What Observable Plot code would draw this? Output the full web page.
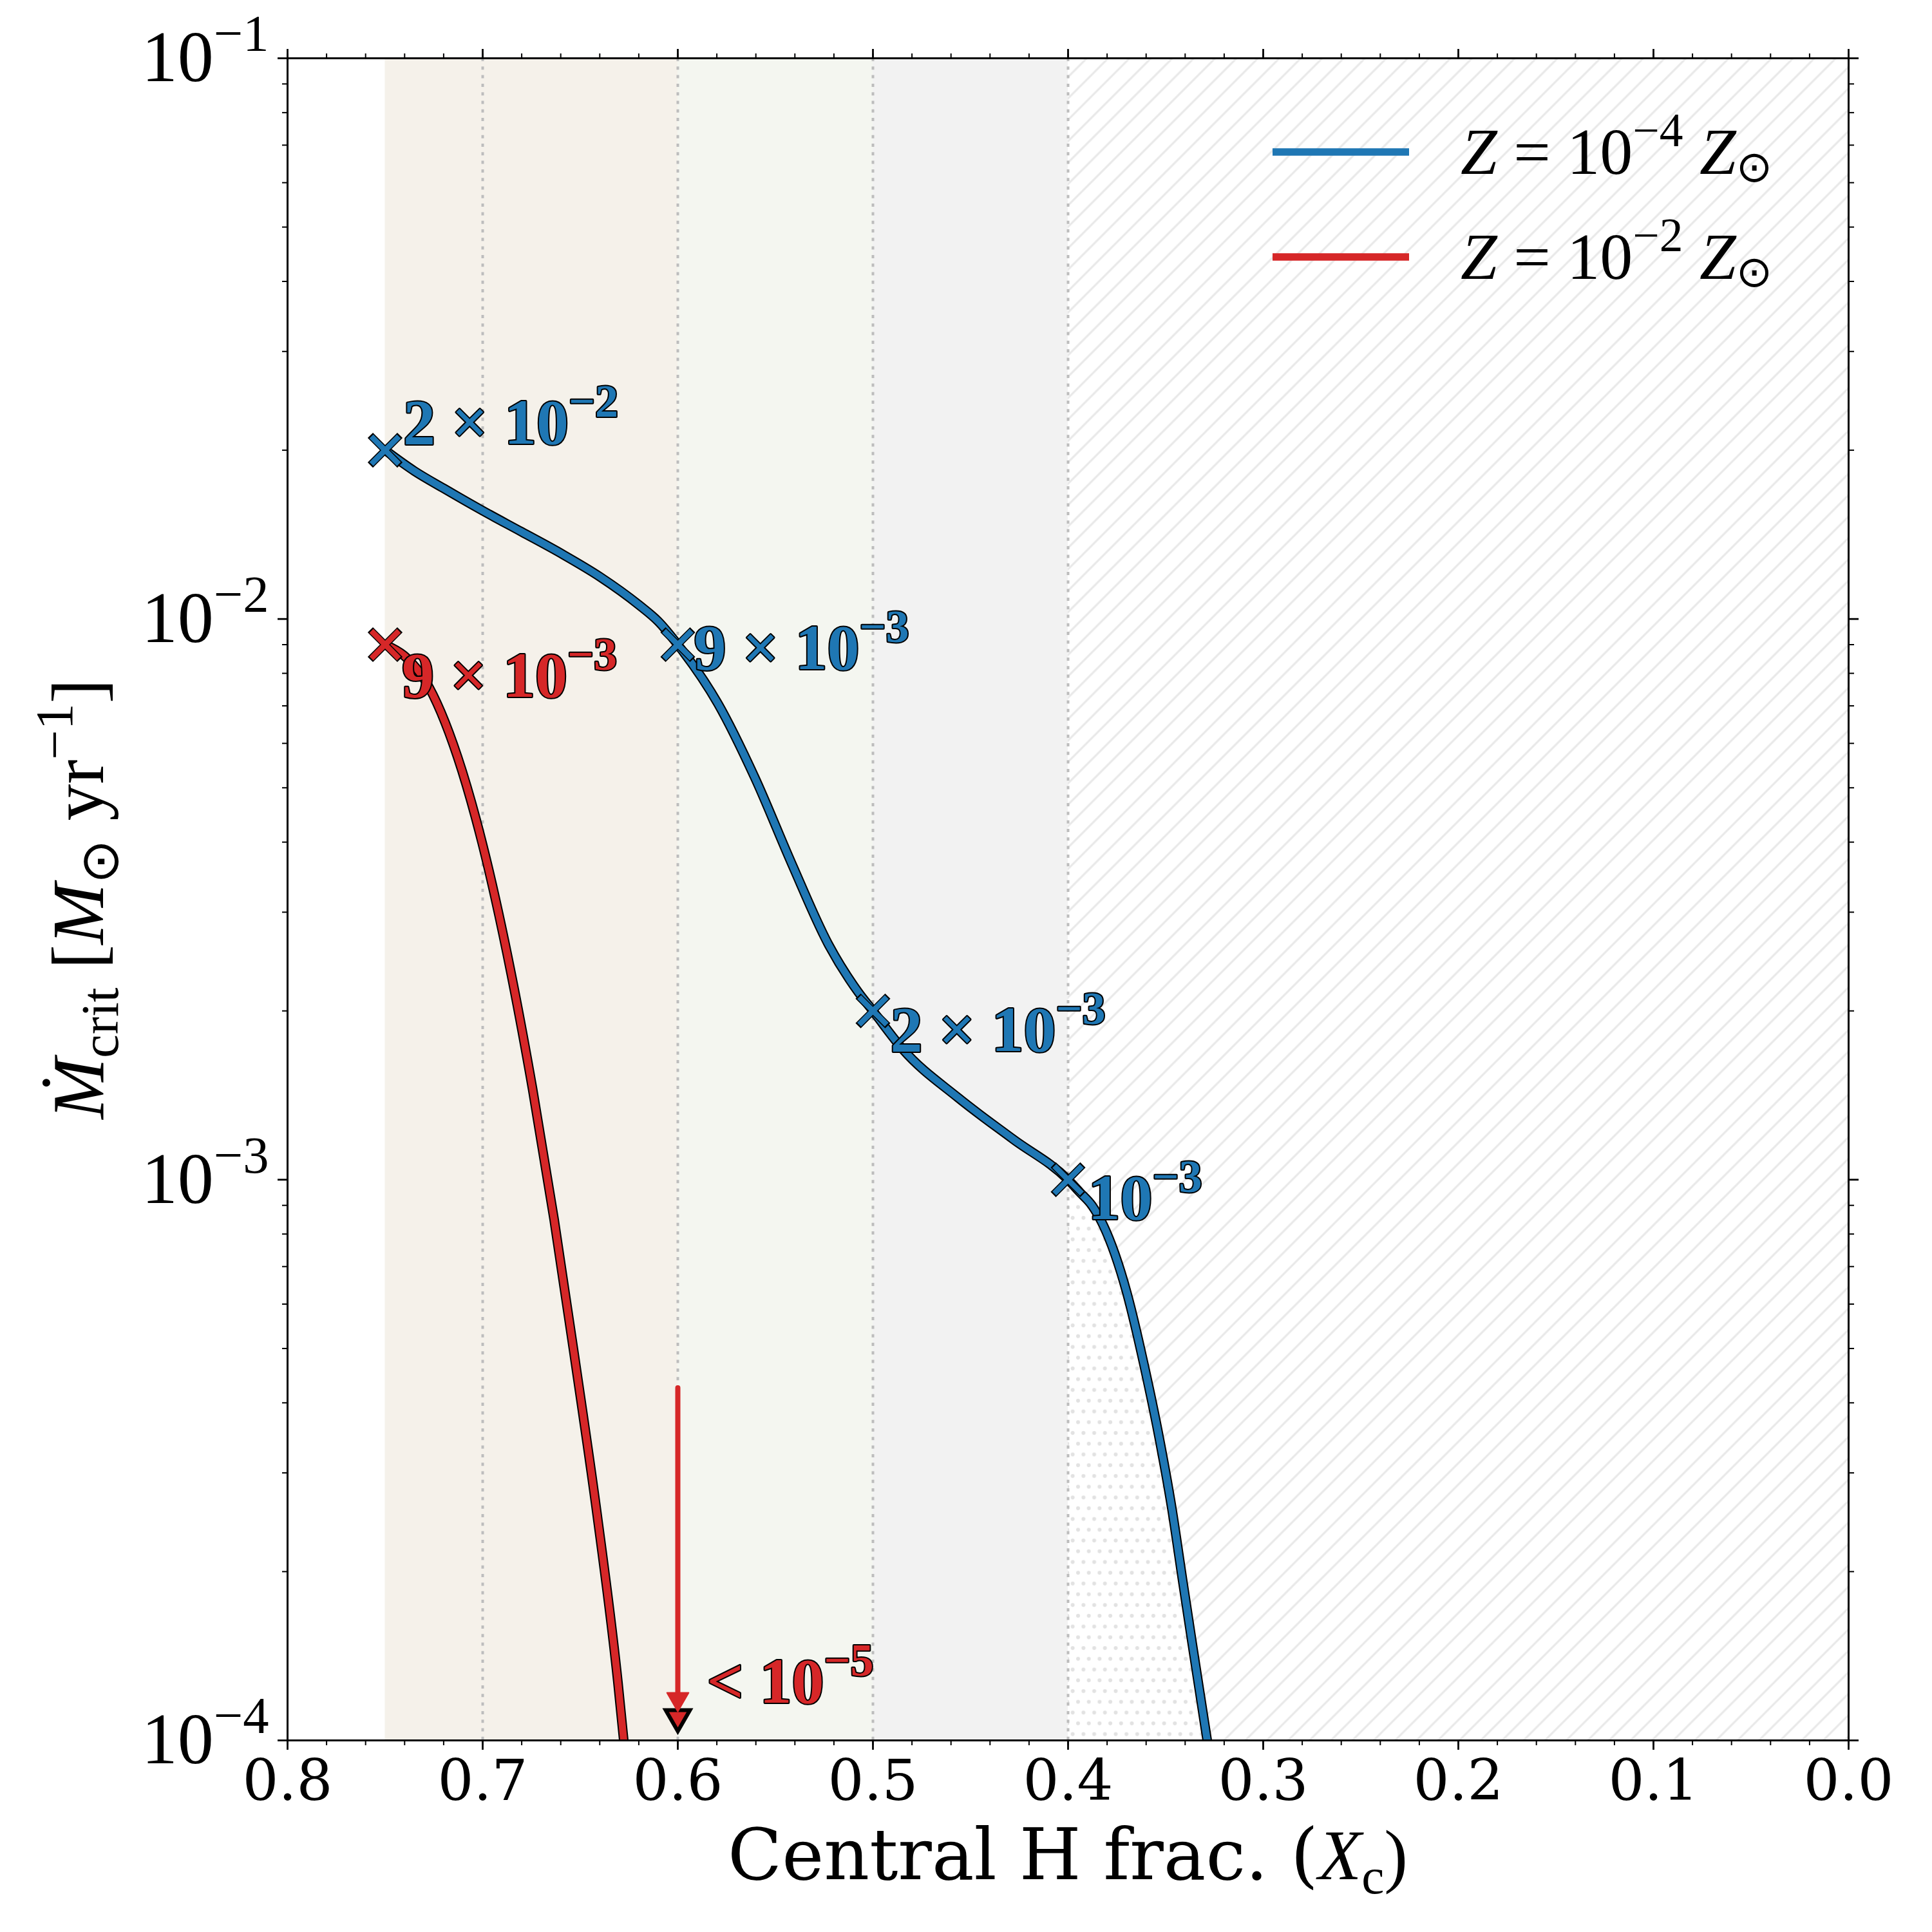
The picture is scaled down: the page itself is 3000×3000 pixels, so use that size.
<!DOCTYPE html>
<html><head><meta charset="utf-8">
<script src="https://cdn.jsdelivr.net/npm/d3@7"></script>
<script src="https://cdn.jsdelivr.net/npm/@observablehq/plot@0.6"></script>
<style>body{margin:0;background:#fff} svg{display:block}</style>
</head><body><div id="chart"></div>
<script>
// ---------------- data ----------------
const seriesNames = ["Z = 10^{−4} Z_{⊙}", "Z = 10^{−2} Z_{⊙}"];

// Z = 1e-4 Zsun (blue)
const lowZ_Xc   = [0.75, 0.735, 0.72, 0.70, 0.68, 0.66, 0.64, 0.62, 0.61, 0.60, 0.5794, 0.5605, 0.5416, 0.5226, 0.5075, 0.50, 0.4848, 0.4563, 0.428, 0.40, 0.394, 0.3878, 0.382, 0.3699, 0.3611, 0.3534, 0.3468, 0.3413, 0.3364, 0.3287];
const lowZ_Mdot = [0.0200, 0.01836, 0.0171, 0.0156, 0.0143, 0.0131, 0.0119, 0.0106, 0.0099, 0.0090, 0.00706, 0.00521, 0.00366, 0.00262, 0.00216, 0.0020, 0.00171, 0.00140, 0.00118, 0.0010, 0.00095, 0.00090, 0.00083, 0.000629, 0.000468, 0.000348, 0.000259, 0.000193, 0.000149, 0.0001];

// Z = 1e-2 Zsun (red)
const highZ_Xc   = [0.75, 0.7404, 0.7294, 0.7129, 0.7002, 0.6854, 0.6744, 0.6634, 0.6524, 0.6413, 0.6307, 0.6277];
const highZ_Mdot = [0.0090, 0.00861, 0.00776, 0.00568, 0.00398, 0.00233, 0.00145, 0.00085, 0.00047, 0.000252, 0.000127, 0.0001];

// labelled points
const markerSeries = [0, 0, 0, 0, 1];
const markerXc     = [0.75, 0.60, 0.50, 0.40, 0.75];
const markerMdot   = [0.02, 0.009, 0.002, 0.001, 0.009];
const markerLabels = ["2 × 10^{−2}", "9 × 10^{−3}", "2 × 10^{−3}", "10^{−3}", "9 × 10^{−3}"];

// upper limit for the high-Z model
const limitXc = [0.60];
const limitMdot = [1.1e-4];
const limitArrowFrom = [4.25e-4];
const limitArrowTo = [1.127e-4];
const limitLabel = ["< 10^{−5}"];

// evolutionary phase bands (in Xc)
const bandStart = [0.75, 0.60, 0.50, 0.40];
const bandEnd   = [0.60, 0.50, 0.40, 0.00];
const phaseLines = [0.70, 0.60, 0.50, 0.40];
const shadeBelowFrom = [0.40]; // dotted fill under the low-Z curve for Xc below this

// axes
const xTickValues = [0.8, 0.7, 0.6, 0.5, 0.4, 0.3, 0.2, 0.1, 0.0];
const xTickLabels = ["0.8", "0.7", "0.6", "0.5", "0.4", "0.3", "0.2", "0.1", "0.0"];
const yTickValues = [1e-4, 1e-3, 1e-2, 1e-1];
const yTickLabels = ["10^{−4}", "10^{−3}", "10^{−2}", "10^{−1}"];
const xMinor = d3.range(0, 41).map(i => +(i * 0.02).toFixed(2));
const yMinor = [1e-4, 1e-3, 1e-2].flatMap(d => [2,3,4,5,6,7,8,9].map(k => k * d));

// ---------------- styles ----------------
const colors = ["#1f77b4", "#d62728"];
const bandFills = ["#f5f1ea", "#f4f6f0", "#f2f2f2", "url(#hatch)"];
const labelOffsets = [[28, -10], [25, 38], [27, 62], [31, 61], [26, 81]];
const mathFont = "'Liberation Serif', 'DejaVu Serif', serif";
const annSize = 100;

const lowRows = lowZ_Xc.map((x, i) => ({Xc: x, Mdot: lowZ_Mdot[i]}));
const highRows = highZ_Xc.map((x, i) => ({Xc: x, Mdot: highZ_Mdot[i]}));
const seriesRows = [lowRows, highRows];
const markers = markerXc.map((x, i) => ({Xc: x, Mdot: markerMdot[i], s: markerSeries[i], label: markerLabels[i]}));
const bands = bandStart.map((x1, i) => ({x1, x2: bandEnd[i]}));
const limit = limitXc.map((x, i) => ({Xc: x, Mdot: limitMdot[i], from: limitArrowFrom[i], to: limitArrowTo[i], label: limitLabel[i]}));
const yMin = yTickValues[0];

const marks = [];
bands.forEach((b, i) => marks.push(Plot.rect([b], {x1: "x1", x2: "x2", fill: bandFills[i]})));
marks.push(Plot.areaY(lowRows.filter(d => d.Xc <= shadeBelowFrom[0]), {x: "Xc", y1: yMin, y2: "Mdot", fill: "url(#dotpat)", curve: "monotone-x", clip: true}));
marks.push(Plot.ruleX(phaseLines, {stroke: "#bdbdbd", strokeWidth: 4, strokeDasharray: "5,8.3"}));
seriesRows.forEach((rows, i) => {
  marks.push(Plot.line(rows, {x: "Xc", y: "Mdot", stroke: "black", strokeWidth: 15, curve: "monotone-x", clip: true}));
  marks.push(Plot.line(rows, {x: "Xc", y: "Mdot", stroke: colors[i], strokeWidth: 11, curve: "monotone-x", clip: true}));
});
// upper-limit marker and arrow
marks.push(Plot.dot(limit, {x: "Xc", y: "Mdot", symbol: "triangle", rotate: 180, r: 14, fill: colors[1], stroke: "black", strokeWidth: 6}));
marks.push(Plot.ruleX(limit, {x: "Xc", y1: "from", y2: "to", stroke: colors[1], strokeWidth: 8, strokeLinecap: "round", insetBottom: 22}));
marks.push(Plot.dot(limit, {x: "Xc", y: "to", symbol: "triangle", rotate: 180, r: 12.5, fill: colors[1], stroke: colors[1], strokeWidth: 2, strokeLinejoin: "round", dy: -19}));
marks.push(Plot.text(limit, {x: "Xc", y: "Mdot", text: "label", dx: 45, dy: -22, textAnchor: "start", lineAnchor: "bottom",
  fill: colors[1], stroke: "black", strokeWidth: 4, paintOrder: "stroke", fontFamily: mathFont, fontWeight: "bold", fontSize: annSize}));
// markers
markers.forEach(m => {
  marks.push(Plot.dot([m], {x: "Xc", y: "Mdot", symbol: "times", r: 21, stroke: "black", strokeWidth: 11.5}));
  marks.push(Plot.dot([m], {x: "Xc", y: "Mdot", symbol: "times", r: 19.5, stroke: colors[m.s], strokeWidth: 8.5}));
});
markers.forEach((m, i) => {
  marks.push(Plot.text([m], {x: "Xc", y: "Mdot", text: "label", dx: labelOffsets[i][0], dy: labelOffsets[i][1],
    textAnchor: "start", lineAnchor: "bottom", fill: colors[m.s], stroke: "black", strokeWidth: 4, paintOrder: "stroke",
    fontFamily: mathFont, fontWeight: "bold", fontSize: annSize}));
});
// frame & axes
marks.push(Plot.frame({stroke: "black", strokeWidth: 3}));
const fmtX = d => xTickLabels[xTickValues.indexOf(d)];
const fmtY = d => yTickLabels[yTickValues.indexOf(d)];
marks.push(Plot.axisX({anchor: "bottom", ticks: xTickValues, tickSize: 15, tickPadding: 15, tickFormat: fmtX, strokeWidth: 2.8, fontSize: 88, fontFamily: "DejaVu Serif", label: null}));
marks.push(Plot.axisX({anchor: "top", ticks: xTickValues, tickSize: 15, tickFormat: () => "", strokeWidth: 2.8, label: null}));
marks.push(Plot.axisX({anchor: "bottom", ticks: xMinor, tickSize: 8, tickFormat: () => "", strokeWidth: 2, label: null}));
marks.push(Plot.axisX({anchor: "top", ticks: xMinor, tickSize: 8, tickFormat: () => "", strokeWidth: 2, label: null}));
marks.push(Plot.axisY({anchor: "left", ticks: yTickValues, tickSize: 15, tickPadding: 14, tickFormat: fmtY, strokeWidth: 2.8, fontSize: 112, fontFamily: mathFont, label: null}));
marks.push(Plot.axisY({anchor: "right", ticks: yTickValues, tickSize: 15, tickFormat: () => "", strokeWidth: 2.8, label: null}));
marks.push(Plot.axisY({anchor: "left", ticks: yMinor, tickSize: 8, tickFormat: () => "", strokeWidth: 2, label: null}));
marks.push(Plot.axisY({anchor: "right", ticks: yMinor, tickSize: 8, tickFormat: () => "", strokeWidth: 2, label: null}));

const chart = Plot.plot({
  width: 3000, height: 3000,
  marginLeft: 446, marginRight: 130, marginTop: 90, marginBottom: 298,
  style: {fontFamily: "DejaVu Serif", fontSize: "88px", background: "white", overflow: "visible"},
  x: {domain: [0.8, 0], label: null},
  y: {type: "log", domain: [1e-4, 1e-1], label: null},
  marks
});
document.getElementById("chart").appendChild(chart);
const svg = d3.select(chart);

// patterns
const defs = svg.insert("defs", ":first-child");
const hp = defs.append("pattern").attr("id", "hatch").attr("patternUnits", "userSpaceOnUse")
  .attr("width", 23.5).attr("height", 23.5).attr("patternTransform", "rotate(45)");
hp.append("rect").attr("width", 23.5).attr("height", 23.5).attr("fill", "white");
hp.append("line").attr("x1", 11.75).attr("x2", 11.75).attr("y1", -1).attr("y2", 24.5).attr("stroke", "#e8e8e8").attr("stroke-width", 3);
const dp = defs.append("pattern").attr("id", "dotpat").attr("patternUnits", "userSpaceOnUse").attr("width", 16.7).attr("height", 33.4);
dp.append("rect").attr("width", 16.7).attr("height", 33.4).attr("fill", "white");
dp.append("circle").attr("cx", 4).attr("cy", 4).attr("r", 3).attr("fill", "#e2e2e2");
dp.append("circle").attr("cx", 12.35).attr("cy", 20.7).attr("r", 3).attr("fill", "#e2e2e2");

// rich text helpers
function parseMarkup(s) {
  const segs = []; const re = /([\^_])\{([^}]*)\}/g; let last = 0, m;
  while ((m = re.exec(s))) {
    if (m.index > last) segs.push({t: s.slice(last, m.index)});
    segs.push(m[1] === "^" ? {t: m[2], sup: true} : {t: m[2], sub: true});
    last = re.lastIndex;
  }
  if (last < s.length) segs.push({t: s.slice(last)});
  return segs;
}
function fillRich(sel, segs, size, supScale = 0.72) {
  sel.text(null);
  let shift = 0;
  for (const sg of segs) {
    const target = sg.sup ? -0.42 * size : sg.sub ? (sg.subShift ?? 0.2) * size : 0;
    const ts = sel.append("tspan").text(sg.t);
    if (target !== shift) { ts.attr("dy", target - shift); shift = target; }
    if (sg.sup || sg.sub) ts.attr("font-size", (sg.scale || supScale) * size);
    if (sg.it) ts.attr("font-style", "italic");
    if (sg.font) ts.attr("font-family", sg.font);
    if (sg.weight) ts.attr("font-weight", sg.weight);
  }
}
svg.selectAll("text").each(function() {
  const s = this.textContent;
  if (!/[\^_]\{/.test(s)) return;
  const size = parseFloat(getComputedStyle(this).fontSize);
  fillRich(d3.select(this), parseMarkup(s), size);
});

// axis titles
const xt = svg.append("text").attr("x", 1658).attr("y", 2918).attr("text-anchor", "middle")
  .attr("font-family", "DejaVu Serif").attr("font-size", 110).attr("fill", "black");
fillRich(xt, [{t: "Central H frac. ("}, {t: "X", it: true, font: mathFont}, {t: "c", sub: true, font: mathFont}, {t: ")", font: mathFont}], 110);
const yt = svg.append("text").attr("transform", "translate(160,1396) rotate(-90)").attr("text-anchor", "middle")
  .attr("font-family", mathFont).attr("font-size", 114).attr("fill", "black");
fillRich(yt, [{t: "Ṁ", it: true}, {t: "crit", sub: true}, {t: " ["}, {t: "M", it: true}, {t: "⊙", sub: true, font: "DejaVu Sans"}, {t: " yr"}, {t: "−1", sup: true}, {t: "]"}], 114);

// legend
const legendY = [236, 399];
const legSize = 102;
seriesNames.forEach((name, i) => {
  svg.append("line").attr("x1", 1976).attr("x2", 2188).attr("y1", legendY[i]).attr("y2", legendY[i])
    .attr("stroke", colors[i]).attr("stroke-width", 11.5);
  const t = svg.append("text").attr("x", 2268).attr("y", legendY[i] + 34).attr("text-anchor", "start")
    .attr("font-family", mathFont).attr("font-size", legSize).attr("fill", "black");
  const segs = parseMarkup(name).map(s => ({...s}));
  segs.forEach(s => { if (s.sub) { s.font = "DejaVu Sans"; s.subShift = 0.12; s.scale = 0.66; } });
  const out = [];
  segs.forEach(s => {
    if (!s.sup && !s.sub) {
      s.t.split(/(Z)/).filter(p => p).forEach(p => out.push(p === "Z" ? {t: "Z", it: true, font: "'Liberation Serif', serif"} : {t: p}));
    } else out.push(s);
  });
  fillRich(t, out, legSize);
});
</script></body></html>
